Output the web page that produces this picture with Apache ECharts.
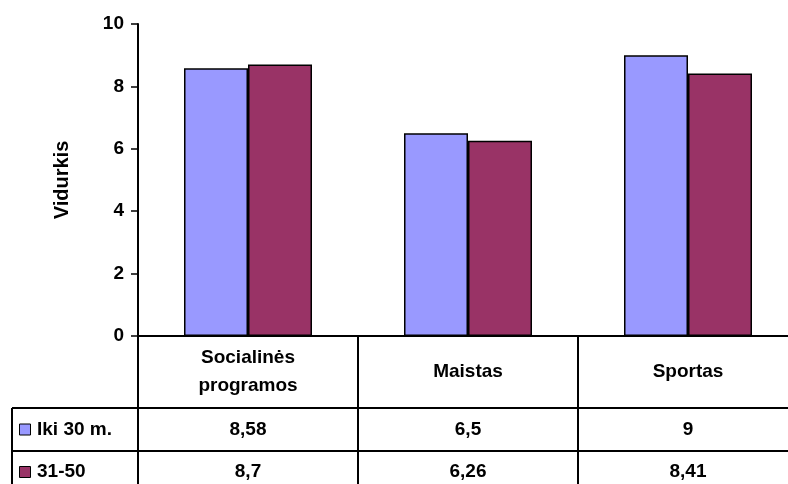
<!DOCTYPE html>
<html>
<head>
<meta charset="utf-8">
<script src="https://cdn.jsdelivr.net/npm/echarts@6/dist/echarts.min.js"></script>
<style>
  html, body { margin: 0; padding: 0; background: #fff; }
  #main { width: 788px; height: 484px; }
</style>
</head>
<body>
<div id="main"></div>
<script>
  // duomenys
  var categories = ['Socialinės\nprogramos', 'Maistas', 'Sportas']
  var seriesNames = ['Iki 30 m.', '31-50']
  var iki30 = [8.58, 6.5, 9]
  var nuo31iki50 = [8.7, 6.26, 8.41]
  var yTicks = [0, 2, 4, 6, 8, 10]

  var colors = ['#9999FF', '#993366']
  var font = 'Arial, "Liberation Sans", sans-serif'

  var myChart = echarts.init(document.getElementById('main'))

  function fmt (v) {
    return String(v).replace('.', ',')
  }

  var option = {
    animation: false,
    textStyle: { fontFamily: font },
    grid: { left: 138, width: 660, top: 24, bottom: 148, outerBoundsMode: 'none' },
    xAxis: {
      type: 'category',
      data: categories,
      axisLine: { lineStyle: { color: '#000', width: 2 } },
      axisTick: { show: false },
      axisLabel: { show: false }
    },
    yAxis: {
      type: 'value',
      min: yTicks[0],
      max: yTicks[yTicks.length - 1],
      interval: 2,
      name: 'Vidurkis',
      nameLocation: 'middle',
      nameGap: 66,
      nameTextStyle: { fontFamily: font, fontSize: 20, fontWeight: 'bold', color: '#000' },
      axisLine: { show: true, lineStyle: { color: '#000', width: 2 } },
      axisTick: { show: true, length: 7, lineStyle: { color: '#000', width: 1.5 } },
      axisLabel: { fontFamily: font, fontSize: 19, fontWeight: 'bold', color: '#000', margin: 14 },
      splitLine: { show: false }
    },
    series: [
      {
        name: seriesNames[0],
        type: 'bar',
        data: iki30,
        barGap: '0%',
        barWidth: 64,
        itemStyle: { color: colors[0], borderColor: '#000', borderWidth: 1.5 }
      },
      {
        name: seriesNames[1],
        type: 'bar',
        data: nuo31iki50,
        barWidth: 64,
        itemStyle: { color: colors[1], borderColor: '#000', borderWidth: 1.5 }
      }
    ]
  }
  myChart.setOption(option)

  // lentelė po grafiku
  var axisY = myChart.convertToPixel({ yAxisIndex: 0 }, 0)
  var left = myChart.convertToPixel({ xAxisIndex: 0 }, 0)
  var step = myChart.convertToPixel({ xAxisIndex: 0 }, 1) - left
  var row1 = axisY + 72
  var row2 = row1 + 43
  var bottom = 484
  var lineStyle = { stroke: '#000', lineWidth: 2 }
  var textStyle = { fontFamily: font, fontSize: 19, fontWeight: 'bold', fill: '#000', align: 'center', verticalAlign: 'middle' }
  var els = []

  for (var i = 0; i <= categories.length; i++) {
    var bx = Math.round(left - step / 2 + i * step)
    els.push({ type: 'line', shape: { x1: bx, y1: axisY, x2: bx, y2: bottom }, style: lineStyle, silent: true })
  }
  els.push({ type: 'line', shape: { x1: 12, y1: row1, x2: 12, y2: bottom }, style: lineStyle, silent: true })
  els.push({ type: 'line', shape: { x1: 12, y1: row1, x2: 800, y2: row1 }, style: lineStyle, silent: true })
  els.push({ type: 'line', shape: { x1: 12, y1: row2, x2: 800, y2: row2 }, style: lineStyle, silent: true })

  // legendos eilutės
  var rowMid = [(row1 + row2) / 2, row2 + 21]
  seriesNames.forEach(function (name, k) {
    els.push({ type: 'rect', shape: { x: 19.5, y: rowMid[k] - 5.5, width: 11, height: 11 }, style: { fill: colors[k], stroke: '#000', lineWidth: 1 }, silent: true })
    els.push({ type: 'text', x: 37, y: rowMid[k], style: Object.assign({}, textStyle, { text: name, align: 'left' }), silent: true })
  })

  categories.forEach(function (c, i) {
    var cx = myChart.convertToPixel({ xAxisIndex: 0 }, i)
    els.push({ type: 'text', x: cx, y: (axisY + row1) / 2, style: Object.assign({ text: c, lineHeight: 28 }, textStyle), silent: true })
    els.push({ type: 'text', x: cx, y: rowMid[0], style: Object.assign({ text: fmt(iki30[i]) }, textStyle), silent: true })
    els.push({ type: 'text', x: cx, y: rowMid[1], style: Object.assign({ text: fmt(nuo31iki50[i]) }, textStyle), silent: true })
  })

  myChart.setOption({ graphic: els })
</script>
</body>
</html>
